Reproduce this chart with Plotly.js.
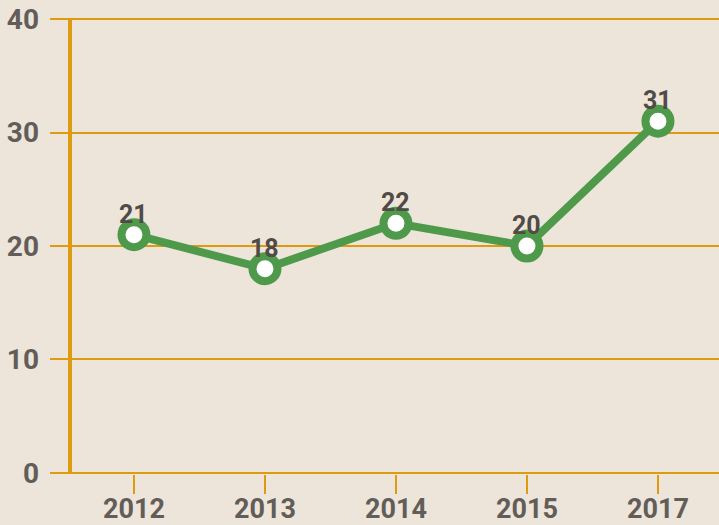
<!DOCTYPE html>
<html><head><meta charset="utf-8">
<script src="https://cdn.plot.ly/plotly-3.0.1.min.js"></script>
<style>html,body{margin:0;padding:0;background:#EDE5DA;}</style>
</head><body>
<div id="chart" style="width:719px;height:525px;"></div>
<script>
const years = ['2012', '2013', '2014', '2015', '2017'];
const values = [21, 18, 22, 20, 31];
const yTicks = [0, 10, 20, 30, 40];

const gold = '#DE9B10';
const green = '#4E9A4A';

const traces = [
  {
    x: years, y: values, type: 'scatter', mode: 'lines+markers',
    line: {color: green, width: 8},
    marker: {size: 25, color: '#FFFFFF', line: {color: green, width: 8}},
    hoverinfo: 'skip', showlegend: false, cliponaxis: false
  }
];

// category axis: annotation x given as the category's serial number
const annotations = years.map((yr, i) => ({
  x: i, y: values[i], xref: 'x', yref: 'y',
  text: String(values[i]), showarrow: false,
  xanchor: 'center', yanchor: 'bottom', yshift: 4,
  font: {family: 'Roboto', size: 25, color: '#504B46', weight: 700}
}));

const layout = {
  width: 719, height: 525,
  margin: {l: 50, r: 0, t: 18, b: 51, pad: 0},
  paper_bgcolor: '#EDE5DA', plot_bgcolor: '#EDE5DA',
  font: {family: 'Roboto', color: '#625D58'},
  xaxis: {
    type: 'category', range: [-0.641, 4.466],
    showgrid: false, zeroline: false, showline: false,
    ticks: 'outside', ticklen: 19, tickwidth: 2, tickcolor: gold,
    ticklabelstandoff: -8,
    tickfont: {family: 'Roboto', size: 27, color: '#625D58', weight: 700}
  },
  yaxis: {
    range: [-0.09, 40.09], tickvals: yTicks, ticktext: yTicks.map(String),
    showgrid: true, gridcolor: gold, gridwidth: 2,
    zeroline: false, showline: false, ticks: '', ticklabelstandoff: 10,
    tickfont: {family: 'Roboto', size: 28, color: '#625D58', weight: 700}
  },
  annotations: annotations,
  shapes: [
    {type: 'line', xref: 'paper', yref: 'y', x0: 20/669, x1: 20/669, y0: 0, y1: 40,
     line: {color: gold, width: 4}, layer: 'below'}
  ]
};

Plotly.newPlot('chart', traces, layout, {displayModeBar: false, staticPlot: true});
</script>
</body></html>
